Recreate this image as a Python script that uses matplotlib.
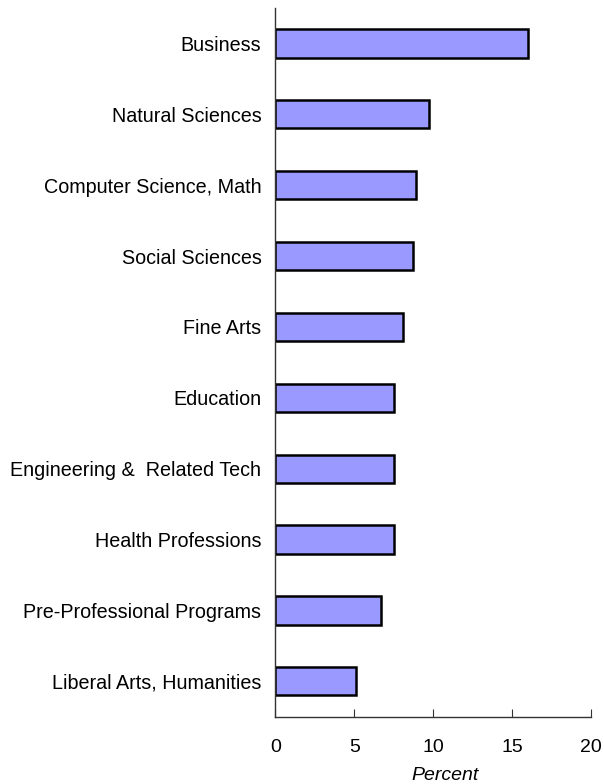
import matplotlib
matplotlib.use("Agg")
import matplotlib.pyplot as plt

categories = ["Business", "Natural Sciences", "Computer Science, Math", "Social Sciences",
              "Fine Arts", "Education", "Engineering &  Related Tech", "Health Professions",
              "Pre-Professional Programs", "Liberal Arts, Humanities"]
values = [16.0, 9.75, 8.9, 8.7, 8.1, 7.5, 7.5, 7.5, 6.7, 5.1]
xticks = [0, 5, 10, 15, 20]

plt.rcParams['font.family'] = ['Liberation Sans', 'DejaVu Sans']

fig = plt.figure(figsize=(6.04, 7.84), dpi=100)
ax = fig.add_axes([0.4558, 0.0858, 0.5232, 0.904])

pos = list(range(len(categories)))[::-1]
ax.barh(pos, values, height=0.4, color="#9999FF", edgecolor="black", linewidth=1.8)
ax.set_ylim(-0.5, 9.5)
ax.set_xlim(0, 20)
ax.set_yticks(pos)
ax.set_yticklabels(categories, fontsize=14.2)
ax.set_xticks(xticks)
ax.set_xticklabels([str(t) for t in xticks], fontsize=14)
ax.tick_params(axis='y', length=0, pad=10)
ax.tick_params(axis='x', direction='in', length=6, pad=16, color='#333333')
for s in ['top', 'right']:
    ax.spines[s].set_visible(False)
for s in ['left', 'bottom']:
    ax.spines[s].set_color('#333333')
    ax.spines[s].set_linewidth(1.0)
ax.set_xlabel("Percent", fontsize=14, fontstyle='italic', labelpad=8)
ax.xaxis.label.set_x(0.537)

fig.savefig("out.png", dpi=100)
